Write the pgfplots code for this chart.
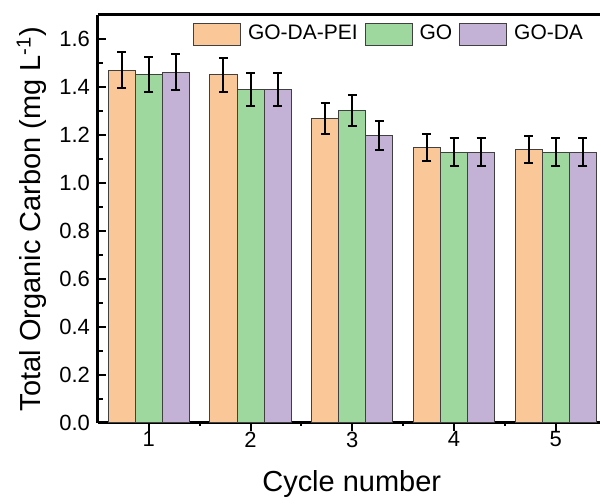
\documentclass[border=0pt]{standalone}
\usepackage{fontspec}
\setmainfont{Liberation Sans}
\usepackage{pgfplots}
\usepackage{pgfplotstable}
\pgfplotsset{compat=1.18}
\definecolor{cOr}{RGB}{250,200,152}
\definecolor{cGr}{RGB}{158,216,158}
\definecolor{cPu}{RGB}{195,178,214}
\pgfplotstableread{
x y e
1 1.47 0.074
2 1.45 0.072
3 1.267 0.064
4 1.147 0.057
5 1.139 0.058
}\tabA
\pgfplotstableread{
x y e
1 1.451 0.073
2 1.389 0.070
3 1.30 0.065
4 1.128 0.058
5 1.128 0.058
}\tabB
\pgfplotstableread{
x y e
1 1.462 0.074
2 1.389 0.070
3 1.197 0.061
4 1.128 0.058
5 1.128 0.058
}\tabC
\begin{document}
\begin{tikzpicture}
\begin{axis}[
  name=ax,
  scale only axis, width=251pt, height=204pt,
  xmin=0.5, xmax=5.43, ymin=0, ymax=1.7,
  axis x line*=box, axis y line*=left,
  axis line style={line width=1.5pt, draw=black},
  xtick pos=lower, ytick pos=left,
  tick align=inside,
  xtick={1,2,3,4,5},
  ytick={0,0.2,...,1.6},
  minor y tick num=1,
  extra x ticks={1.5,2.5,3.5,4.5},
  extra x tick labels={},
  extra x tick style={major tick length=1.5pt},
  major tick length=4pt, minor tick length=2.5pt,
  every tick/.style={black, line width=1pt},
  /pgf/number format/assume math mode=true,
  tick label style={font=\fontsize{11}{13}\selectfont},
  yticklabel style={/pgf/number format/fixed, /pgf/number format/fixed zerofill, /pgf/number format/precision=1, xshift=-0.5pt},
  xticklabel style={yshift=3pt},
  ylabel={Total Organic Carbon (mg L\textsuperscript{-1})},
  xlabel={Cycle number},
  label style={font=\fontsize{14.5}{17}\selectfont},
  ylabel style={at={(axis description cs:-0.1135,0.5)}, anchor=base, rotate=0},
  xlabel style={at={(axis description cs:0.506,-0.1684)}, anchor=base},
  ybar=0pt, bar width=0.266,
  legend image code/.code={\draw[#1,line width=0.5pt] (0pt,-5.5pt) rectangle (23.5pt,5.5pt);},
  legend style={draw=none, fill=none, inner sep=0pt, at={(0.189,0.953)}, anchor=west,
    font=\fontsize{10.5}{12}\selectfont, legend columns=-1,
    nodes={inner sep=0pt},
    /tikz/every odd column/.append style={column sep=3.5pt},
    /tikz/every even column/.append style={column sep=3.5pt}},
]
\addplot[fill=cOr, draw=black!75, line width=0.5pt,
  error bars/.cd, y dir=both, y explicit,
  error bar style={line width=1pt, black},
  error mark options={line width=1pt, mark size=2.25pt, rotate=90, black}]
  table[x=x, y=y, y error=e] {\tabA};
\addlegendentry{GO-DA-PEI}
\addplot[fill=cGr, draw=black!75, line width=0.5pt,
  error bars/.cd, y dir=both, y explicit,
  error bar style={line width=1pt, black},
  error mark options={line width=1pt, mark size=2.25pt, rotate=90, black}]
  table[x=x, y=y, y error=e] {\tabB};
\addlegendentry{GO}
\addplot[fill=cPu, draw=black!75, line width=0.5pt,
  error bars/.cd, y dir=both, y explicit,
  error bar style={line width=1pt, black},
  error mark options={line width=1pt, mark size=2.25pt, rotate=90, black}]
  table[x=x, y=y, y error=e] {\tabC};
\addlegendentry{GO-DA}
\end{axis}
\path ([xshift=-49pt,yshift=-36pt]ax.south west) rectangle ([xshift=0.5pt,yshift=7.5pt]ax.north east);
\end{tikzpicture}
\end{document}
